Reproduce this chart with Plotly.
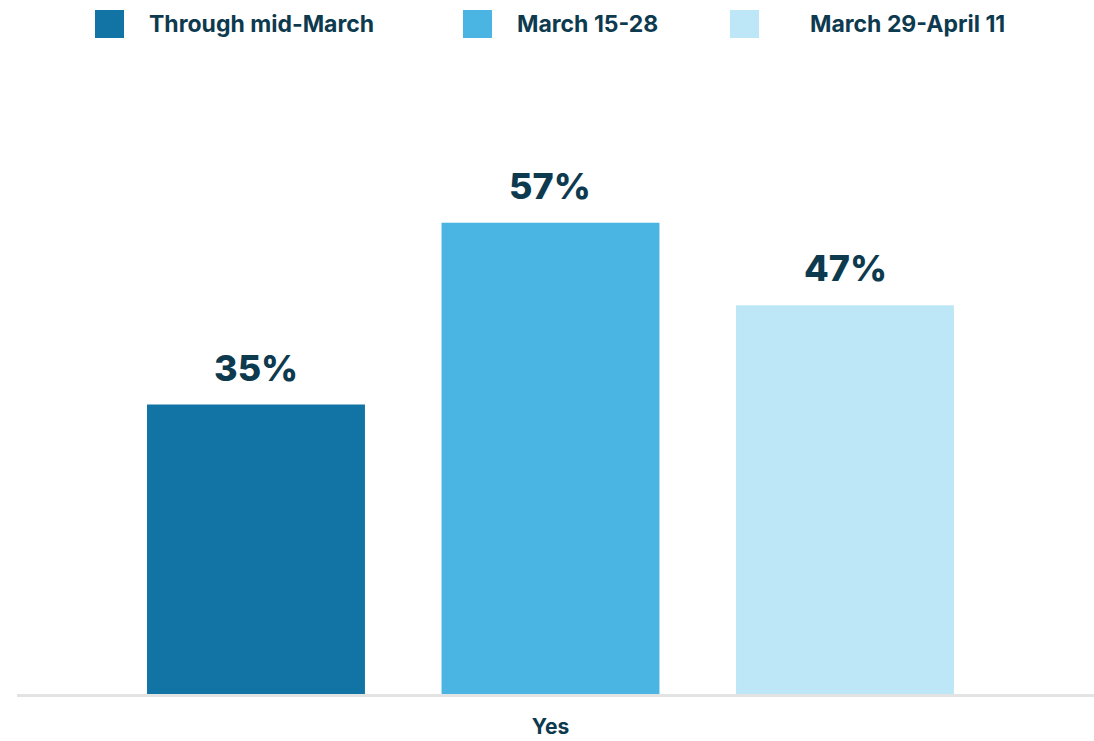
import plotly.graph_objects as go

# Share answering "Yes", by survey period
periods = ["Through mid-March", "March 15-28", "March 29-April 11"]
values = [35, 57, 47]
colors = ["#1274a5", "#4ab5e3", "#bde7f7"]
category_label = "Yes"

TEXT = "#0d3a4e"
FONT = "Inter"

fig = go.Figure()
for i, (name, v, c) in enumerate(zip(periods, values, colors)):
    fig.add_trace(go.Bar(
        x=[i], y=[v], name=name, width=0.74,
        marker=dict(color=c, line=dict(width=0)),
        hoverinfo="skip", showlegend=False,
    ))
    fig.add_annotation(
        x=i, y=v, text=f"{v}%", showarrow=False, yanchor="bottom", yshift=13,
        font=dict(family=FONT, size=36, color=TEXT, weight=800),
    )

# Legend row: swatch + label
legend_pos = [(95, 147), (463, 515), (730, 808)]
for (sx, tx), name, c in zip(legend_pos, periods, colors):
    fig.add_shape(type="rect", xref="paper", yref="paper",
                  x0=(sx - 17) / 1077, x1=(sx + 29 - 17) / 1077,
                  y0=(694 - 38) / 594, y1=(694 - 10) / 594,
                  fillcolor=c, line=dict(width=0))
    fig.add_annotation(xref="paper", yref="paper",
                       x=(tx - 17) / 1077, y=(694 - 24) / 594,
                       xanchor="left", yanchor="middle", showarrow=False,
                       text=name, font=dict(family=FONT, size=23, color=TEXT, weight=700))

fig.update_layout(
    width=1094, height=741,
    margin=dict(l=17, r=0, t=100, b=47, autoexpand=False),
    paper_bgcolor="white", plot_bgcolor="white",
    showlegend=False,
    xaxis=dict(range=[-0.8115, 2.8455], tickvals=[1], ticktext=[category_label],
               automargin=False,
               showline=True, linecolor="#e3e3e3", linewidth=3,
               showgrid=False, zeroline=False, ticks="",
               ticklabelstandoff=12,
               tickfont=dict(family=FONT, size=21, color=TEXT, weight=700),
               fixedrange=True),
    yaxis=dict(range=[0, 71.83], visible=False, fixedrange=True, automargin=False),
)

fig.write_html("out.html")
